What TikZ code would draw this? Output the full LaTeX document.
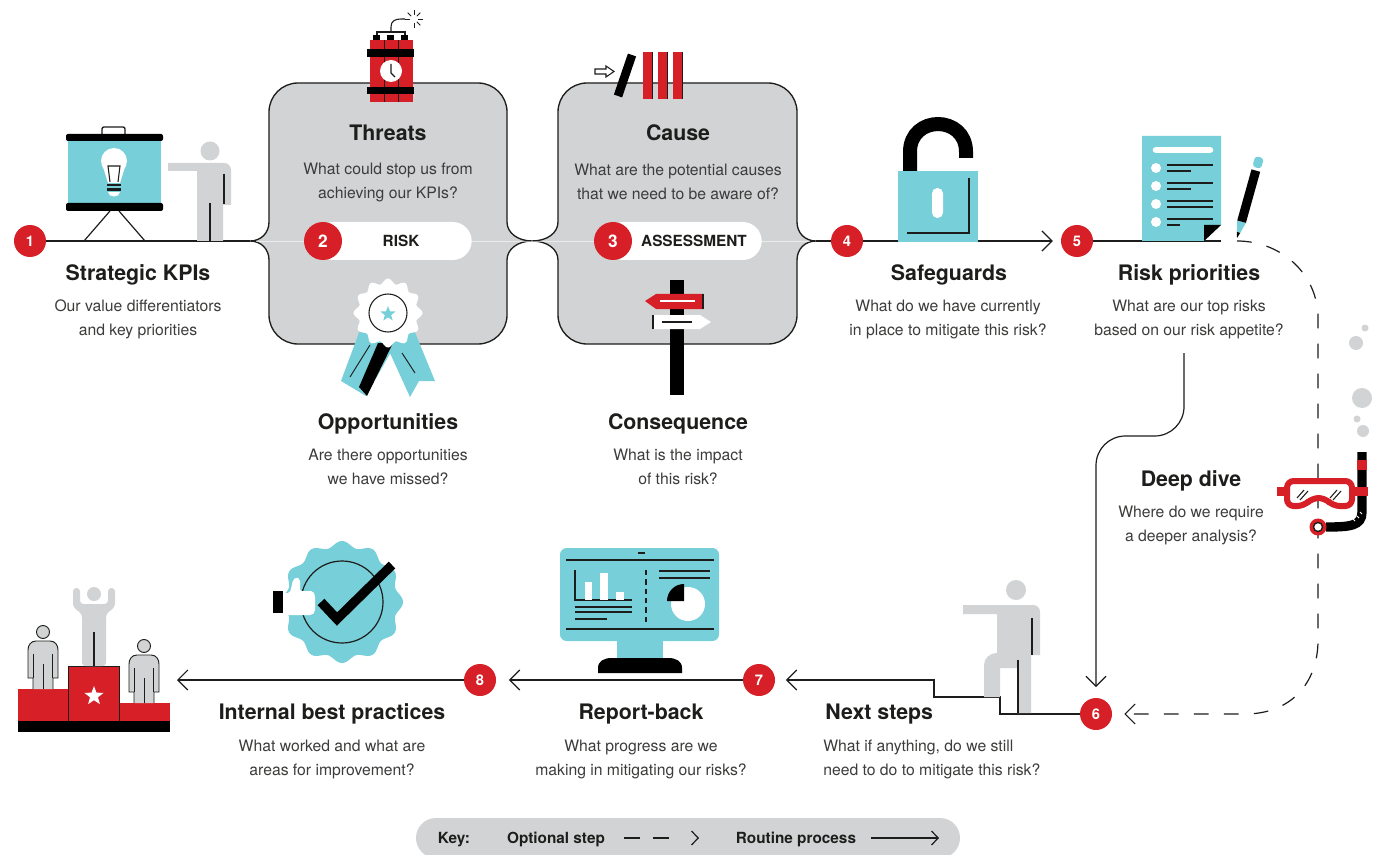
\documentclass[tikz,border=0pt]{standalone}
\usepackage{fontspec}
\setmainfont{TeX Gyre Heros}
\usetikzlibrary{arrows.meta,shapes.geometric,shapes.misc}

\definecolor{kred}{HTML}{D71F27}
\definecolor{kblue}{HTML}{77CFD9}
\definecolor{kgray}{HTML}{D1D3D4}
\definecolor{ink}{HTML}{1D1D1B}
\definecolor{subink}{HTML}{3C3C3B}

\tikzset{
  badge/.style={circle, fill=kred, text=white, inner sep=0pt, minimum size=24pt,
    font=\bfseries\fontsize{11}{11}\selectfont},
  bigbadge/.style={badge, minimum size=28.5pt, font=\bfseries\fontsize{13}{13}\selectfont},
  pill/.style={rounded rectangle, fill=white, minimum width=118pt, minimum height=28.5pt, inner sep=0pt},
  pilltext/.style={font=\bfseries\fontsize{11.5}{12}\selectfont, text=ink},
  title/.style={font=\bfseries\fontsize{16}{18}\selectfont, text=ink, text height=11.5pt, text depth=0pt, inner sep=0pt},
  sub/.style={font=\fontsize{11.8}{18}\selectfont, text=subink, align=center, inner sep=0pt},
  keytext/.style={font=\bfseries\fontsize{11.5}{12}\selectfont, text=ink, text height=8.3pt, text depth=0pt, inner sep=0pt},
  flow/.style={draw=ink, line width=0.9pt},
  arr/.style={-{Straight Barb[length=7.5pt,width=15pt]}},
  keyarr/.style={-{Straight Barb[length=5pt,width=10.5pt]}},
  optional/.style={dash pattern=on 11pt off 11.5pt},
  riskbox/.style={fill=kgray, draw=ink, line width=1pt, line join=round},
}

\begin{document}
\begin{tikzpicture}[x=0.75pt, y=-0.75pt]
\clip (0,0) rectangle (1383,855);
\fill[white] (0,0) rectangle (1383,855);

% ---------- the two grey boxes with bracket joints ----------
\path[riskbox] (269,222) -- (269,112) .. controls (269,96) and (282,83) .. (298,83)
  -- (478,83) .. controls (494,83) and (507,96) .. (507,112)
  -- (507,222) .. controls (507,233) and (518,241) .. (532,241)
  .. controls (518,241) and (507,249) .. (507,260)
  -- (507,315) .. controls (507,331) and (494,344) .. (478,344)
  -- (298,344) .. controls (282,344) and (269,331) .. (269,315)
  -- (269,260) .. controls (269,249) and (261,241) .. (250,241)
  .. controls (261,241) and (269,233) .. (269,222) -- cycle;
\path[riskbox] (558,222) -- (558,112) .. controls (558,96) and (571,83) .. (587,83)
  -- (768,83) .. controls (784,83) and (797,96) .. (797,112)
  -- (797,222) .. controls (797,233) and (805,241) .. (816,241)
  .. controls (805,241) and (797,249) .. (797,260)
  -- (797,315) .. controls (797,331) and (784,344) .. (768,344)
  -- (587,344) .. controls (571,344) and (558,331) .. (558,315)
  -- (558,260) .. controls (558,249) and (547,241) .. (532,241)
  .. controls (547,241) and (558,233) .. (558,222) -- cycle;
\draw[white, opacity=0.55, line width=0.4pt] (256,241) -- (810,241);

% ---------- badges ----------
\node[badge] (b1) at (30,241) {1};
\node[badge] (b4) at (847,241) {4};
\node[badge] (b5) at (1077,241) {5};
\node[badge] (b6) at (1096,714) {6};
\node[badge] (b7) at (759,680) {7};
\node[badge] (b8) at (480,680) {8};

\coordinate (box2L) at (250,241);
\coordinate (box3R) at (816,241);
\coordinate (docR) at (1221,241);
\coordinate (diveS) at (1237,241);
\coordinate (prioS) at (1184,353);
\coordinate (podium) at (177,680);

% ---------- connectors ----------
\draw[flow] (b1) -- (box2L);
\draw[flow] (box3R) -- (b4);
\draw[flow, arr, shorten >=6pt] (b4) -- (b5);
\draw[flow] (b5) -- (docR);
\draw[flow, optional, arr, shorten >=9pt] (diveS) .. controls (1282,241) and (1318,275) .. (1318,318)
  -- (1318,640) .. controls (1318,684) and (1290,714) .. (1245,714) -- (b6);
\draw[flow, arr, shorten >=8pt, rounded corners=22pt] (prioS) -- (1184,436) -- (1096,436) -- (b6);
\draw[flow, arr, shorten >=8pt] (b6) -- (1000,714) -- (1000,697) -- (934,697) -- (934,680) -- (b7);
\draw[flow, arr, shorten >=9.5pt] (b7) -- (b8);
\draw[flow, arr] (b8) -- (podium);

% ---------- easel with light bulb ----------
\draw[ink, line width=1pt, rounded corners=1.5pt] (102,134) -- (102,127) -- (125,127) -- (125,134);
\fill[kblue] (68,138) rectangle (161,206);
\fill[black, rounded corners=1.5pt] (66,134) rectangle (163,141);
\fill[black, rounded corners=1.5pt] (66,203) rectangle (163,211);
\draw[ink, line width=0.9pt] (110,211) -- (84,241) (119,211) -- (145,241);
\fill[white] (114,161) circle (13);
\fill[white] (103,167) -- (125,167) -- (120,183) -- (108,183) -- cycle;
\fill[ink] (107,184) rectangle (121,186.5);
\fill[ink] (107,188.5) rectangle (121,191);
\fill[white] (108,192) .. controls (108,198) and (120,198) .. (120,192) -- cycle;
\draw[ink, line width=0.8pt] (110,182) -- (108,166) -- (120,166) -- (118,182);

% presenter
\fill[kgray] (210,151) circle (9.5);
\fill[kgray] (168,163) -- (224,163) .. controls (228,163) and (231,166) .. (231,170) -- (231,205)
  -- (223,205) -- (223,241) -- (197,241) -- (197,171) -- (168,171) -- cycle;
\draw[ink, line width=1pt] (224,174) -- (224,204) (210,203) -- (210,241);

% ---------- dynamite ----------
\draw[ink, line width=0.8pt] (377,36) -- (377,32) -- (405,32) -- (405,36);
\draw[ink, line width=0.8pt] (391,32) -- (391,27) .. controls (391,21) and (395,19) .. (401,19) -- (405,19);
\begin{scope}[shift={(414,19)}]
  \foreach \a in {0,45,90,180,225,270,315}
    \draw[ink, line width=0.7pt] (\a:4) -- (\a:9);
\end{scope}
\fill[black] (373,35) rectangle (380,41);
\fill[black] (387,35) rectangle (394,41);
\fill[black] (401,35) rectangle (408,41);
\fill[kred] (370,40) rectangle (413,102);
\draw[ink, line width=0.5pt] (384,40) -- (384,102) (398,40) -- (398,102);
\fill[black] (367,49) rectangle (414,57);
\fill[black] (367,87) rectangle (414,94);
\fill[white] (391,71) circle (11);
\draw[ink, line width=1pt] (391,64) -- (391,73) -- (395,77);

% ---------- dominoes ----------
\draw[ink, line width=0.8pt] (595,69) -- (606,69) -- (606,66) -- (614,71.5) -- (606,77) -- (606,74) -- (595,74) -- cycle;
\draw[black, line width=6.5pt] (618,96) -- (632,55);
\foreach \x in {643,657.5,672.5}{
  \fill[kred] (\x,52) rectangle ++(9.5,47);
  \draw[ink, line width=0.6pt] (\x+9.5,52) -- ++(0,47);
}

% ---------- rosette ----------
\fill[kblue] (360,330) -- (341,381) -- (366,396) -- (396,343) -- cycle;
\fill[kblue] (384,340) -- (414,330) -- (435,381) -- (419,381) -- (410,397) -- cycle;
\fill[black] (378,343) -- (359,387) -- (367,396) -- (393,343) -- cycle;
\draw[ink, line width=0.7pt] (370,345) -- (350,377) (402,353) -- (415,373);
\fill[white] plot[domain=0:360, samples=145, variable=\t]
  ({388+(32+2.5*cos(12*\t))*cos(\t)}, {313+(32+2.5*cos(12*\t))*sin(\t)}) -- cycle;
\draw[ink, line width=0.8pt] (388,313) circle (19);
\node[star, star points=5, star point ratio=2.4, fill=kblue, inner sep=0pt, minimum size=12pt] (rstar) at (388,314) {};

% ---------- signpost ----------
\fill[black] (670,280) rectangle (684,395);
\fill[kred] (645,301) -- (656,294) -- (703,294) -- (703,309) -- (656,309) -- cycle;
\draw[white, line width=1pt] (660,301) -- (695,301);
\draw[ink, line width=0.8pt] (703,294) -- (703,309);
\fill[white] (653,315) -- (700,315) -- (711,322) -- (700,329) -- (653,329) -- cycle;
\draw[ink, line width=0.8pt] (662,322) -- (692,322) (653,315) -- (653,329);

% ---------- padlock ----------
\draw[black, line width=10.5pt] (910,172) -- (910,152) .. controls (910,114.7) and (966,114.7) .. (966,152) -- (966,158);
\fill[kblue] (898,171) rectangle (978,242);
\fill[white, rounded corners=4pt] (932,188) rectangle (943,218);
\draw[ink, line width=1pt] (969,178) -- (969,233) -- (907,233);

% ---------- checklist and pencil ----------
\fill[kblue] (1142,136) -- (1221,136) -- (1221,225) -- (1204,241) -- (1142,241) -- cycle;
\fill[black] (1204,225) -- (1221,225) -- (1204,241) -- cycle;
\draw[white, line width=5pt, line cap=round] (1156,150) -- (1210,150);
\foreach \yy/\xe in {168/1191,186/1191,204/1213,222/1180}{
  \fill[white] (1156,\yy) circle (5);
  \draw[ink, line width=1pt] (1167,\yy-3) -- (1213,\yy-3) (1167,\yy+3) -- (\xe,\yy+3);
}
\begin{scope}[shift={(1237,238)}, rotate=-15.6]
  \fill[black] (0,0) -- (-1.8,-6) -- (1.8,-6) -- cycle;
  \fill[kblue] (-1.8,-6) -- (-4.5,-17) -- (4.5,-17) -- (1.8,-6) -- cycle;
  \fill[black] (-4.5,-17) rectangle (4.5,-70);
  \fill[kblue, rounded corners=2.5pt] (-4.5,-73) rectangle (4.5,-84);
\end{scope}

% ---------- bubbles ----------
\fill[kgray] (1365,328) circle (3.5);
\fill[kgray] (1356,343) circle (7);
\fill[kgray] (1362,398) circle (10);
\fill[kgray] (1357,419) circle (3.5);
\fill[kgray] (1363,431) circle (6);

% ---------- diving mask and snorkel ----------
\draw[black, line width=7pt] (1362,452) -- (1362,512) .. controls (1362,526) and (1350,527) .. (1326,527);
\draw[white, line width=0.6pt] (1353,519) -- (1355,521) (1357,516) -- (1359,518) (1360,512) -- (1362,514);
\fill[kred] (1357,460) rectangle (1367,470);
\fill[kred] (1352,487) rectangle (1368,496);
\fill[kred] (1277,487) rectangle (1285,496);
\draw[kred, line width=4.5pt, fill=white, rounded corners=5pt] (1287,481) -- (1352,481) -- (1352,506)
  -- (1333,506) -- (1325,498) -- (1312,498) -- (1304,506) -- (1287,506) -- cycle;
\draw[ink, line width=0.8pt] (1297,498) -- (1304,490) (1300,500) -- (1308,491)
  (1330,498) -- (1337,490) (1333,500) -- (1341,491);
\fill[kred] (1318,527) circle (8.5);
\draw[ink, fill=white, line width=1pt] (1318,527) circle (4.5);

% ---------- podium ----------
\fill[black] (18,721) rectangle (170,732);
\fill[kred] (18,689) rectangle (68,721);
\fill[kred] (69,666) rectangle (119,721);
\fill[kred] (120,703) rectangle (170,721);
\draw[ink, line width=0.6pt] (68.5,666) -- (68.5,721) (119.5,666) -- (119.5,721) (69,666) -- (119,666);
\node[star, star points=5, star point ratio=2.4, fill=white, inner sep=0pt, minimum size=15pt] (pstar) at (94,696) {};
% winner
\fill[kgray, rounded corners=2.5pt] (73,588) -- (80,588) -- (80,604) -- (108,604) -- (108,588) -- (115,588)
  -- (115,607) -- (106,614) -- (106,666) -- (82,666) -- (82,614) -- (73,607) -- cycle;
\fill[kgray] (94,594) circle (7);
\draw[ink, line width=0.8pt] (94,632) -- (94,666);
% runners-up
\foreach \dx/\dy in {0/0,101/14}{
  \begin{scope}[shift={(\dx,\dy)}]
    \draw[fill=kgray, draw=ink, line width=0.7pt] (33,689) -- (33,678) -- (28,678)
      -- (28,650) .. controls (28,645) and (31,641) .. (36,641) -- (50,641)
      .. controls (55,641) and (58,645) .. (58,650) -- (58,678) -- (53,678) -- (53,689);
    \draw[ink, line width=0.7pt] (43,664) -- (43,689) (33.5,654) -- (33.5,678) (52.5,654) -- (52.5,678);
    \draw[fill=kgray, draw=ink, line width=0.7pt] (43,632) circle (6.5);
  \end{scope}
}

% ---------- approval seal with thumb ----------
\fill[kblue] plot[domain=0:360, samples=181, variable=\t]
  ({342+(58+3*cos(12*\t))*cos(\t)}, {602+(58+3*cos(12*\t))*sin(\t)}) -- cycle;
\draw[ink, line width=0.9pt] (342,602) circle (41);
\draw[black, line width=7pt] (321,602) -- (337,619) -- (392,565);
\fill[white, rounded corners=1.5pt] (283,593) -- (290,593) -- (293,580) -- (296,577) -- (300,579) -- (300,591)
  -- (313,591) -- (315,595) -- (315,612) -- (312,615) -- (283,615) -- cycle;
\fill[black] (273,591) rectangle (283,613);

% ---------- monitor ----------
\fill[kblue] (617,638) rectangle (663,660);
\fill[kblue, rounded corners=5pt] (560,548) rectangle (719,641);
\fill[black] (598,673) -- (598,668) .. controls (598,661) and (604,658) .. (612,658) -- (668,658)
  .. controls (676,658) and (682,661) .. (682,668) -- (682,673) -- cycle;
\draw[ink, line width=0.9pt] (638,553) -- (645,553) (566,560) -- (714,560) (566,629) -- (714,629);
\draw[ink, line width=0.9pt] (575,570) -- (575,600) -- (632,600);
\fill[white] (585,582) rectangle (592,600);
\fill[white] (600,573) rectangle (608,600);
\fill[white] (616,592) rectangle (624,600);
\draw[ink, line width=0.9pt] (575,607) -- (632,607) (575,612) -- (632,612) (575,619) -- (607,619);
\draw[ink, line width=0.9pt, dash pattern=on 4pt off 3pt] (646,570) -- (646,622);
\draw[ink, line width=0.9pt] (659,571) -- (710,571) (659,578) -- (710,578);
\fill[white] (688,604) circle (17);
\fill[black] (684,601) -- (667,601) .. controls (667,591.6) and (674.6,584) .. (684,584) -- cycle;

% ---------- person on the steps ----------
\fill[kgray] (1016,590) circle (10);
\fill[kgray] (963,605) -- (1033,605) .. controls (1037,605) and (1040,608) .. (1040,612) -- (1040,655)
  -- (1031,655) -- (1031,713) -- (1017,713) -- (1017,668) -- (1000,668) -- (1000,697) -- (984,697)
  -- (984,665) .. controls (984,658) and (990,653) .. (997,653) -- (997,614) -- (963,614) -- cycle;
\draw[ink, line width=1pt] (1032,618) -- (1032,655) (1018,660) -- (1018,713);

% ---------- pills ----------
\node[pill] (pill2) at (393,241) {};
\node[pill] (pill3) at (683,241) {};
\node[bigbadge] (b2) at (323,241) {2};
\node[bigbadge] (b3) at (613,241) {3};
\node[pilltext] (risk) at (401,241) {RISK};
\node[pilltext] (assess) at (694,241) {ASSESSMENT};

% ---------- titles and questions ----------
\node[title] (kpiT) at (138,273) {Strategic KPIs};
\node[sub] (kpiS) at (138,319) {Our value differentiators\\and key priorities};
\node[title] (thrT) at (388,133) {Threats};
\node[sub] (thrS) at (388,182) {What could stop us from\\achieving our KPIs?};
\node[title] (cauT) at (678,133) {Cause};
\node[sub] (cauS) at (678,182) {What are the potential causes\\that we need to be aware of?};
\node[title] (oppT) at (388,422) {Opportunities};
\node[sub] (oppS) at (388,467) {Are there opportunities\\we have missed?};
\node[title] (conT) at (678,422) {Consequence};
\node[sub] (conS) at (678,467) {What is the impact\\of this risk?};
\node[title] (safT) at (949,273) {Safeguards};
\node[sub] (safS) at (948,319) {What do we have currently\\in place to mitigate this risk?};
\node[title] (rpT) at (1189,273) {Risk priorities};
\node[sub] (rpS) at (1189,319) {What are our top risks\\based on our risk appetite?};
\node[title] (ddT) at (1191,479) {Deep dive};
\node[sub] (ddS) at (1191,525) {Where do we require\\a deeper analysis?};
\node[title, anchor=west] (nsT) at (825,712) {Next steps};
\node[sub, align=left, anchor=west] (nsS) at (823,759) {What if anything, do we still\\need to do to mitigate this risk?};
\node[title] (rbT) at (641,712) {Report-back};
\node[sub] (rbS) at (641,759) {What progress are we\\making in mitigating our risks?};
\node[title] (ibT) at (332,712) {Internal best practices};
\node[sub] (ibS) at (332,759) {What worked and what are\\areas for improvement?};

% ---------- key ----------
\node[rounded rectangle, fill=kgray, minimum width=408pt, minimum height=30pt, inner sep=0pt] (keybar) at (688,838) {};
\node[keytext] (keyK) at (454,838) {Key:};
\node[keytext] (keyO) at (556,838) {Optional step};
\node[keytext] (keyR) at (796,838) {Routine process};
\coordinate (optA) at (624,838);
\coordinate (optB) at (699,838);
\coordinate (rouA) at (871,838);
\coordinate (rouB) at (939,838);
\draw[flow, keyarr, dash pattern=on 12pt off 9.75pt on 12pt off 60pt] (optA) -- (optB);
\draw[flow, keyarr] (rouA) -- (rouB);
\end{tikzpicture}
\end{document}
